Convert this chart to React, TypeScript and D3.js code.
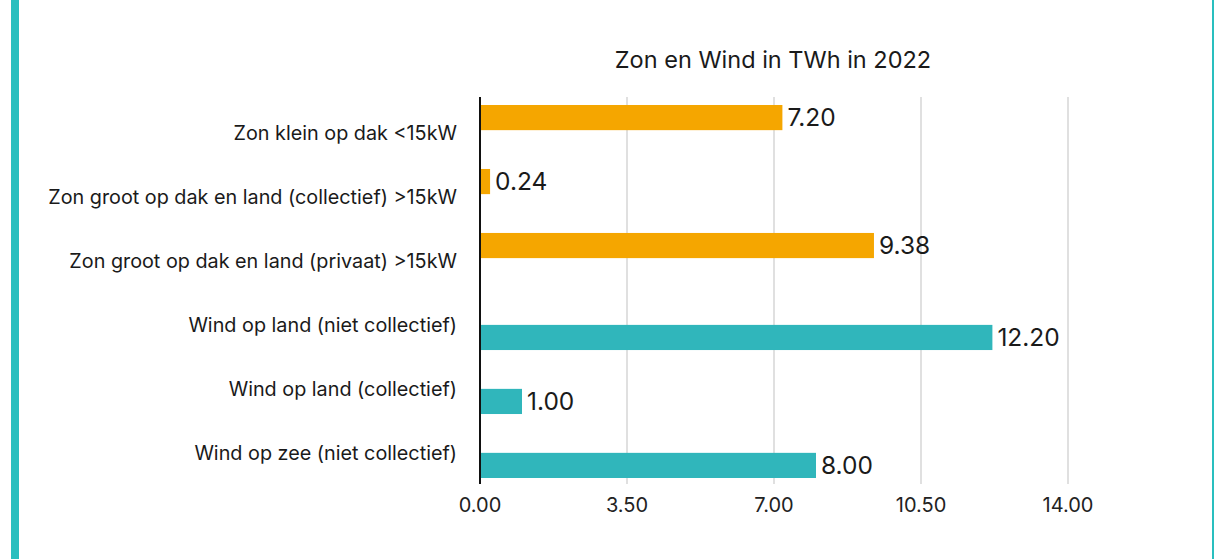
import * as d3 from 'd3';

const categories = [
  'Zon klein op dak <15kW',
  'Zon groot op dak en land (collectief) >15kW',
  'Zon groot op dak en land (privaat) >15kW',
  'Wind op land (niet collectief)',
  'Wind op land (collectief)',
  'Wind op zee (niet collectief)',
];
const series = ['Zon', 'Wind'];
const zonValues = [7.2, 0.24, 9.38, 0, 0, 0];
const windValues = [0, 0, 0, 12.2, 1.0, 8.0];
const xTicks = [0, 3.5, 7, 10.5, 14];
const title = 'Zon en Wind in TWh in 2022';

const W = 1214;
const H = 559;
const FONT = 'Inter, "DejaVu Sans", sans-serif';
const colors: Record<string, string> = { Zon: '#F5A600', Wind: '#30B6BB' };

export default function App() {
  const x = d3.scaleLinear().domain([0, 14]).range([480, 1068]);
  const y = d3.scaleBand<string>().domain(categories).range([97, 486]).paddingInner(0.17).paddingOuter(0.125);
  const ySub = d3.scaleBand<string>().domain(series).range([0, y.bandwidth()]).paddingInner(0.1);

  const rows = categories.flatMap((c, i) => [
    { cat: c, s: 'Zon', v: zonValues[i] },
    { cat: c, s: 'Wind', v: windValues[i] },
  ]).filter((d) => d.v > 0);

  const [top, bottom] = [97, 484];

  return (
    <svg width={W} height={H} style={{ position: 'absolute', left: 0, top: 0, background: '#fff' }} fontFamily={FONT}>
      <rect x={11} y={0} width={8} height={H} fill="#29BFBF" />
      <rect x={1212} y={0} width={2} height={H} fill="#29BFBF" />

      <text x={773} y={62} textAnchor="middle" dominantBaseline="middle" fontSize={23.5} fill="#1a1a1a">
        {title}
      </text>

      {xTicks.map((t) => (
        <g key={t}>
          {t > 0 && <line x1={x(t)} x2={x(t)} y1={top} y2={bottom} stroke="#d6d6d6" strokeWidth={1.5} />}
          <text x={x(t)} y={507} textAnchor="middle" dominantBaseline="middle" fontSize={20} fill="#222">
            {d3.format('.2f')(t)}
          </text>
        </g>
      ))}

      {rows.map((d) => {
        const yy = (y(d.cat) ?? 0) + (ySub(d.s) ?? 0);
        return (
          <g key={d.cat + d.s}>
            <rect x={x(0)} y={yy} width={x(d.v) - x(0)} height={ySub.bandwidth()} fill={colors[d.s]} />
            <text x={x(d.v) + 5} y={yy + ySub.bandwidth() / 2 + 2} dominantBaseline="middle" fontSize={24.5} fill="#1a1a1a">
              {d3.format('.2f')(d.v)}
            </text>
          </g>
        );
      })}

      <line x1={x(0)} x2={x(0)} y1={top} y2={bottom} stroke="#111" strokeWidth={2} />

      {categories.map((c) => (
        <text key={c} x={457} y={(y(c) ?? 0) + y.bandwidth() / 2 + 3} textAnchor="end" dominantBaseline="middle" fontSize={19.8} fill="#1a1a1a">
          {c}
        </text>
      ))}
    </svg>
  );
}
